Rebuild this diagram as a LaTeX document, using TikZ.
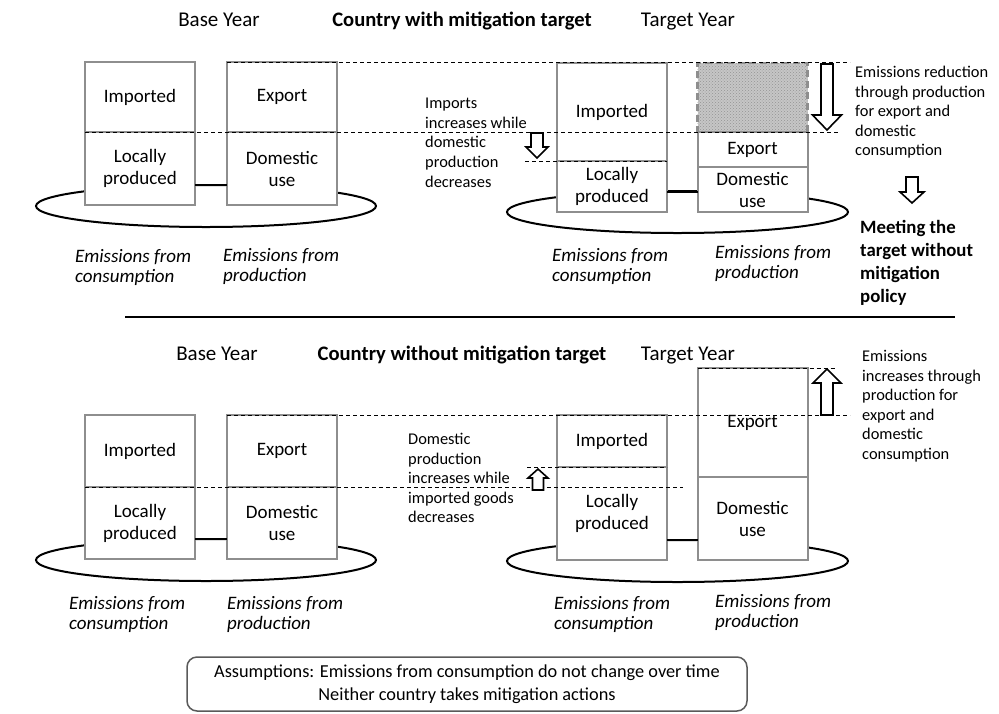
\documentclass[tikz,border=0pt]{standalone}
\usepackage{fontspec}
\setmainfont{Carlito}
\usepackage{tikz}
\usetikzlibrary{positioning, patterns}
\definecolor{boxgray}{HTML}{8E8E8E}
\definecolor{framegray}{HTML}{5A5A5A}
\tikzset{
segbox/.style={
    rectangle,
    draw=boxgray,
    line width=2pt,
    fill=white,
    minimum width=110pt,
    inner sep=0pt,
    outer sep=0pt,
    align=center,
    font=\fontsize{19}{22}\selectfont
},
cutbox/.style={
    rectangle,
    draw=boxgray,
    dash pattern=on 7pt off 4pt,
    line width=2.5pt,
    preaction={fill=gray!45},
    pattern=crosshatch dots,
    pattern color=gray!85,
    minimum width=110pt,
    inner sep=0pt,
    outer sep=0pt
},
heading/.style={inner sep=0pt, anchor=base, font=\fontsize{21}{25}\selectfont},
caption/.style={anchor=north west, inner sep=0pt, align=left, font=\fontsize{19}{20}\selectfont\itshape},
note/.style={anchor=north west, inner sep=0pt, align=left, font=\fontsize{16.4}{19.6}\selectfont},
guide/.style={dash pattern=on 4pt off 3pt, line width=0.8pt},
link/.style={line width=2.5pt},
plate/.style={line width=2pt},
blockarrow/.style={draw, fill=white, line width=1.6pt, line join=miter}
}

\begin{document}
\begin{tikzpicture}[x=1pt, y=-1pt]
    \useasboundingbox (0,0) rectangle (999,713);

    % ---------- country with mitigation target ----------
    \node[heading] (hbaseA) at (219,26) {Base Year};
    \node[heading, font=\fontsize{20.6}{24}\selectfont\bfseries] (hcountryA) at (462,26) {Country with mitigation target};
    \node[heading] (htargetA) at (688,26) {Target Year};

    % plates
    \draw[plate] (206,206) ellipse [x radius=170pt, y radius=21pt];
    \draw[plate] (677.5,212) ellipse [x radius=170.5pt, y radius=21pt];

    % base year boxes
    \node[segbox, minimum height=70pt, anchor=north] (bimpA) at (140,62) {Imported};
    \node[segbox, minimum height=73pt, below=0pt of bimpA] (blocA) {Locally\\produced};
    \node[segbox, minimum height=70pt, anchor=north] (bexpA) at (282,62) {Export};
    \node[segbox, minimum height=73pt, below=0pt of bexpA] (bdomA) {Domestic\\use};

    % target year boxes
    \node[segbox, minimum height=98pt, anchor=north] (timpA) at (612,63) {Imported};
    \node[segbox, minimum height=51pt, below=0pt of timpA] (tlocA) {Locally\\produced};
    \node[cutbox, minimum height=69pt, anchor=north] (tcutA) at (752.5,63) {};
    \node[segbox, minimum height=35pt, below=0pt of tcutA] (texpA) {Export};
    \node[segbox, minimum height=45pt, below=0pt of texpA] (tdomA) {Domestic\\use};

    % links
    \draw[link] ([yshift=-16.5pt]blocA.east) -- ([yshift=-16.5pt]bdomA.west);
    \draw[link] ([yshift=-5.5pt]tlocA.east) -- ([yshift=-5.5pt]tlocA.east -| tdomA.west);

    % guide lines
    \draw[guide] (bexpA.north west) -- (850,62);
    \draw[guide] (bimpA.south west) -- (838,132);
    \draw[guide] (525,161) -- (tlocA.north east);

    % block arrows
    \draw[blockarrow] (821,64) -- (833,64) -- (833,115) -- (841.5,115) -- (827,130) -- (812.5,115) -- (821,115) -- cycle;
    \draw[blockarrow] (531,133) -- (543,133) -- (543,147) -- (548,147) -- (537,158) -- (526,147) -- (531,147) -- cycle;
    \draw[blockarrow] (906,177) -- (918,177) -- (918,192) -- (924,192) -- (912,203) -- (900,192) -- (906,192) -- cycle;

    % notes
    \node[note] (nimportsA) at (425,98) {Imports\\increases while\\domestic\\production\\decreases};
    \node[note] (nreduceA) at (855,66) {Emissions reduction\\through production\\for export and\\domestic\\consumption};
    \node[note, font=\fontsize{18.8}{23}\selectfont\bfseries] (nmeetA) at (860,220) {Meeting the\\target without\\mitigation\\policy};

    % captions
    \node[caption] (cbconsA) at (75,249) {Emissions from\\consumption};
    \node[caption] (cbprodA) at (223,248) {Emissions from\\production};
    \node[caption] (ctconsA) at (552,248) {Emissions from\\consumption};
    \node[caption] (ctprodA) at (715,245) {Emissions from\\production};

    % separator
    \draw[line width=2.5pt] (125,317) -- (955,317);

    % ---------- country without mitigation target ----------
    \node[heading] (hbaseB) at (217,360) {Base Year};
    \node[heading, font=\fontsize{20.6}{24}\selectfont\bfseries] (hcountryB) at (462,360) {Country without mitigation target};
    \node[heading] (htargetB) at (688,360) {Target Year};

    % plates
    \draw[plate] (206,560) ellipse [x radius=170pt, y radius=21pt];
    \draw[plate] (677.5,561) ellipse [x radius=170.5pt, y radius=21pt];

    % base year boxes
    \node[segbox, minimum height=72pt, anchor=north] (bimpB) at (140,415) {Imported};
    \node[segbox, minimum height=72pt, below=0pt of bimpB] (blocB) {Locally\\produced};
    \node[segbox, minimum height=72pt, anchor=north] (bexpB) at (282,415) {Export};
    \node[segbox, minimum height=72pt, below=0pt of bexpB] (bdomB) {Domestic\\use};

    % target year boxes
    \node[segbox, minimum height=52pt, anchor=north] (timpB) at (612,415) {Imported};
    \node[segbox, minimum height=93pt, below=0pt of timpB] (tlocB) {Locally\\produced};
    \node[segbox, minimum height=109pt, anchor=north] (texpB) at (752.5,368) {Export};
    \node[segbox, minimum height=83pt, below=0pt of texpB] (tdomB) {Domestic\\use};

    % links
    \draw[link] ([yshift=-16pt]blocB.east) -- ([yshift=-16pt]bdomB.west);
    \draw[link] ([yshift=-26.5pt]tlocB.east) -- ([yshift=-26.5pt]tlocB.east -| tdomB.west);

    % guide lines
    \draw[guide] (bexpB.north west) -- (850,415);
    \draw[guide] (bimpB.south west) -- (683,487);
    \draw[guide] (527,467) -- (timpB.south east);
    \draw[guide] (texpB.north west) -- (837,368);

    % block arrows
    \draw[blockarrow] (821,415) -- (833,415) -- (833,383) -- (841,383) -- (827,369) -- (813,383) -- (821,383) -- cycle;
    \draw[blockarrow] (532.5,490) -- (543.5,490) -- (543.5,478) -- (548,478) -- (538,469) -- (528,478) -- (532.5,478) -- cycle;

    % notes
    \node[note] (ndomesticB) at (408,433) {Domestic\\production\\increases while\\imported goods\\decreases};
    \node[note] (nincreaseB) at (862,350) {Emissions\\increases through\\production for\\export and\\domestic\\consumption};

    % captions
    \node[caption] (cbconsB) at (69,596) {Emissions from\\consumption};
    \node[caption] (cbprodB) at (227,596) {Emissions from\\production};
    \node[caption] (ctconsB) at (554,596) {Emissions from\\consumption};
    \node[caption] (ctprodB) at (715,594) {Emissions from\\production};

    % assumptions
    \node[draw=framegray, line width=1.5pt, rounded corners=10pt, minimum width=560pt, minimum height=54pt,
          inner sep=0pt, align=center, font=\fontsize{18.3}{23}\selectfont] (assume) at (467,684)
          {Assumptions: Emissions from consumption do not change over time\\Neither country takes mitigation actions};

\end{tikzpicture}
\end{document}
